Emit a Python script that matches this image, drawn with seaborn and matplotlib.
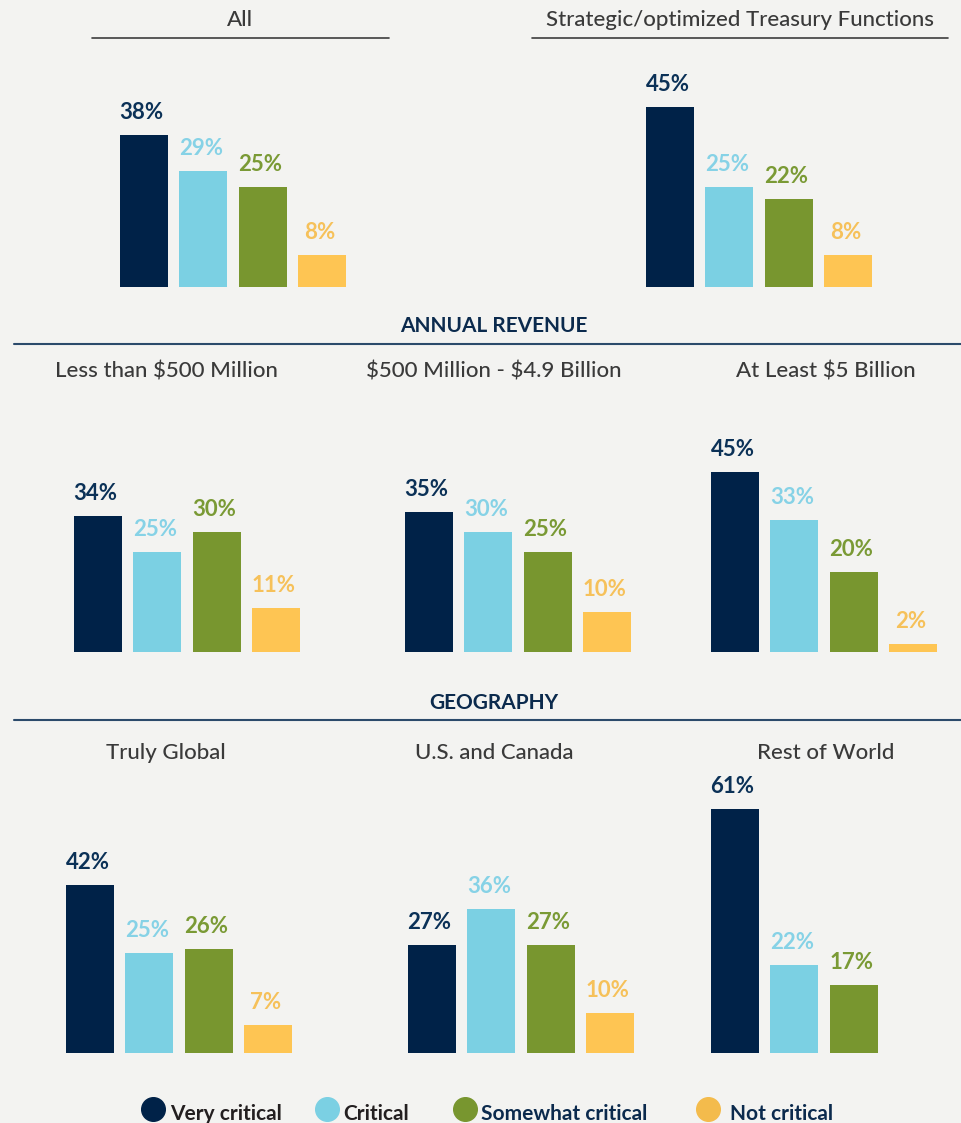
import matplotlib
matplotlib.use("Agg")
import matplotlib.pyplot as plt
import seaborn as sns
import pandas as pd
from matplotlib.lines import Line2D

# data
categories = ["Very critical", "Critical", "Somewhat critical", "Not critical"]
all_vals = [38, 29, 25, 8]
strategic_vals = [45, 25, 22, 8]
rev_small = [34, 25, 30, 11]
rev_mid = [35, 30, 25, 10]
rev_large = [45, 33, 20, 2]
geo_global = [42, 25, 26, 7]
geo_us = [27, 36, 27, 10]
geo_rest = [61, 22, 17]

bar_colors = ["#002248", "#7bd0e3", "#78962f", "#fec553"]
label_colors = ["#0b3157", "#86d2e6", "#7a9a35", "#f6c15a"]
legend_text_colors = ["#231f20", "#231f20", "#0b2a4d", "#0b2a4d"]
bg = "#f3f3f1"

W, H = 961, 1123
STEP = 59.4

sns.set_theme(style="white")
plt.rcParams["font.family"] = ["Lato", "DejaVu Sans"]

fig = plt.figure(figsize=(W / 100, H / 100), dpi=100)
fig.patch.set_facecolor(bg)


def fx(x):
    return x / W


def fy(y):
    return 1 - y / H


def panel(vals, first_left, baseline):
    # axes sized so that 1 data unit = 4 px, 1 category = STEP px
    left = first_left - (STEP - 48) / 2
    ax = fig.add_axes([fx(left), fy(baseline), 4 * STEP / W, 280 / H])
    df = pd.DataFrame({"cat": categories[:len(vals)], "val": vals})
    sns.barplot(data=df, x="cat", y="val", hue="cat", order=categories,
                hue_order=categories, palette=bar_colors, width=0.81,
                saturation=1, legend=False, linewidth=0, ax=ax)
    ax.set_xlim(-0.5, 3.5)
    ax.set_ylim(0, 70)
    ax.set_facecolor("none")
    ax.axis("off")
    for i, v in enumerate(vals):
        ax.text(i - 0.04, v + 4, f"{v}%", ha="center", va="baseline",
                fontsize=16, fontweight="bold", color=label_colors[i])
    return ax


def title(txt, xc, base, **kw):
    fig.text(fx(xc), fy(base), txt, ha="center", va="baseline", **kw)


def hline(x0, x1, y, color, lw):
    fig.add_artist(Line2D([fx(x0), fx(x1)], [fy(y), fy(y)], color=color, lw=lw))


sub_kw = dict(fontsize=16, color="#3a3a3a", fontweight="medium")
head_kw = dict(fontsize=15, fontweight="bold", color="#0b2a4d")

# top row
title("All", 240, 26, **sub_kw)
hline(92, 389, 38, "#3d3d3d", 1.2)
title("Strategic/optimized Treasury Functions", 740, 26, **sub_kw)
hline(532, 948, 38, "#3d3d3d", 1.2)
panel(all_vals, 120, 287)
panel(strategic_vals, 646, 287)

# annual revenue
title("ANNUAL REVENUE", 494, 332, **head_kw)
hline(14, 961, 344, "#2b4a6b", 1.5)
title("Less than \\$500 Million", 166, 378, **sub_kw)
title("\\$500 Million - \\$4.9 Billion", 494, 378, **sub_kw)
title("At Least \\$5 Billion", 826, 378, **sub_kw)
panel(rev_small, 74, 652)
panel(rev_mid, 405, 652)
panel(rev_large, 711, 652)

# geography
title("GEOGRAPHY", 494, 709, **head_kw)
hline(14, 961, 720, "#2b4a6b", 1.5)
title("Truly Global", 166, 759, **sub_kw)
title("U.S. and Canada", 494, 759, **sub_kw)
title("Rest of World", 826, 759, **sub_kw)
panel(geo_global, 66, 1053)
panel(geo_us, 408, 1053)
panel(geo_rest, 711, 1053)

# legend
leg_circle_x = [153, 327, 465, 708]
leg_text_x = [170, 343, 481, 730]
for i, cat in enumerate(categories):
    fig.add_artist(Line2D([fx(leg_circle_x[i])], [fy(1109)], marker="o",
                          markersize=17, color=bar_colors[i] if i != 3 else "#f3bb4c",
                          linestyle="none"))
    fig.text(fx(leg_text_x[i]), fy(1120), cat, ha="left", va="baseline",
             fontsize=15, fontweight="bold", color=legend_text_colors[i])

fig.savefig("out.png", dpi=100, facecolor=bg)
